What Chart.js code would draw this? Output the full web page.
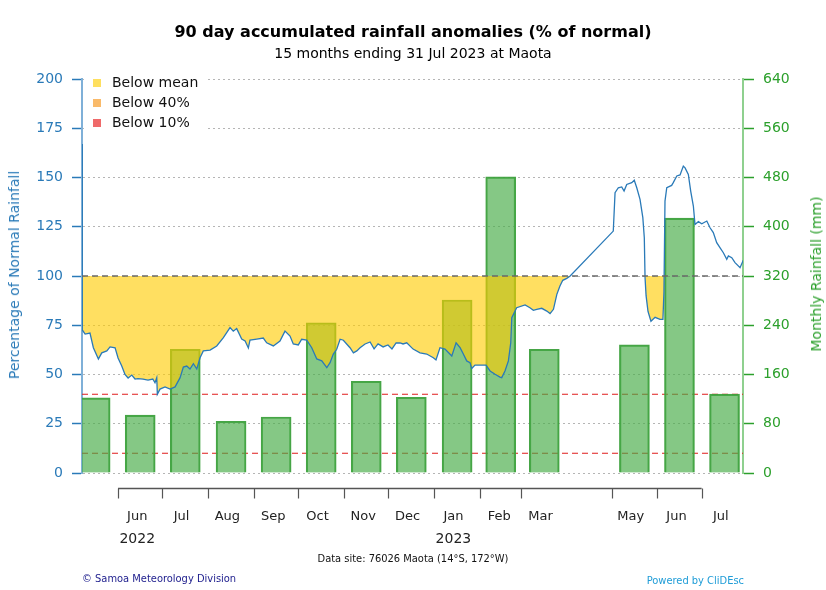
<!DOCTYPE html>
<html>
<head>
<meta charset="utf-8">
<script src="https://cdn.jsdelivr.net/npm/chart.js@4.4.1/dist/chart.umd.min.js"></script>
<style>
  html, body { margin:0; padding:0; background:#fff; }
  #wrap { position:relative; width:826px; height:590px; font-family:'DejaVu Sans', sans-serif; }
  #c { position:absolute; left:0; top:0; }
  .t { position:absolute; white-space:nowrap; }
  #title { left:0; width:826px; top:22px; text-align:center; font-weight:bold; font-size:16px; line-height:20px; color:#000; }
  #subtitle { left:0; width:826px; top:45px; text-align:center; font-size:14px; line-height:16px; color:#000; }
  .ytitle { font-size:14px; line-height:16px; transform:translate(-50%,-50%) rotate(-90deg); }
  #ylt { left:14px; top:275px; color:#2a7ab8; }
  #yrt { left:816px; top:274px; color:#2ca02c; }
  .foot { font-family:'DejaVu Sans Condensed','DejaVu Sans',sans-serif; font-stretch:condensed; font-size:11px; line-height:13px; }
  #site { left:0; width:826px; top:552px; text-align:center; color:#111; }
  #org { left:82px; top:572px; color:#1c1c8c; }
  #pow { right:82px; top:574px; color:#1e9cd7; }
</style>
</head>
<body>
<div id="wrap">
  <canvas id="c" width="826" height="590"></canvas>
  <div class="t" id="title">90 day accumulated rainfall anomalies (% of normal)</div>
  <div class="t" id="subtitle">15 months ending 31 Jul 2023 at Maota</div>
  <div class="t ytitle" id="ylt">Percentage of Normal Rainfall</div>
  <div class="t ytitle" id="yrt">Monthly Rainfall (mm)</div>
  <div class="t foot" id="site">Data site: 76026 Maota (14°S, 172°W)</div>
  <div class="t foot" id="org">© Samoa Meteorology Division</div>
  <div class="t foot" id="pow">Powered by CliDEsc</div>
</div>
<script>
// ---- DATA (days counted from 1 Jun 2022) ----
const months = ['May','Jun','Jul','Aug','Sep','Oct','Nov','Dec','Jan','Feb','Mar','Apr','May','Jun','Jul'];
const monthStartDay = [-31,0,30,61,92,122,153,183,214,245,273,304,334,365,395,426];
const monthlyRain = [122,94,201,84,91,244,149,123,281,481,201,null,208,414,128];

const axisMonths = ['Jun','Jul','Aug','Sep','Oct','Nov','Dec','Jan','Feb','Mar','May','Jun','Jul'];
const axisTickDays = [0,30,61,92,122,153,183,214,245,273,334,365,395];
const yearLabels = ['2022','2023'];
const yearLabelDays = [0,214];

const lineDays = [-24.4,-24.2,-22.3,-19,-16.7,-13.3,-11,-7.6,-5.4,-2,
0,2.5,4.7,6.8,9.3,11.5,13.5,16.9,20.3,23.5,
25,26.2,26.6,28.4,31.8,35.2,38.6,42,44.2,46.5,
48.7,51,53.3,55.5,57.7,62.3,66.8,71.3,75.8,78,
80.3,83.7,86,88.2,89.3,93.9,98.3,100.6,105.1,109.6,
113,116.4,118.6,122,124.3,127.7,131.1,134.5,137.9,141.3,
143.5,145.7,148,150.3,152.5,157,159.3,161.6,163.8,167.2,
170.6,173.3,176,179.4,182.7,185.4,188.2,190.9,192.9,195.4,
199.7,204.4,208.9,213.4,215.2,217.9,221.3,225.9,228.8,231.5,
233.7,236,238.2,239.4,241.6,246.2,249.1,251.8,255.2,258.5,
259.7,261.9,264.2,265.8,266.5,269.8,275.5,278.8,281.1,283.4,
286.8,290.2,292.4,294.7,297,299.1,301,303.7,306,335.2,
336.4,338.6,340.9,342.5,344.3,347.7,349.4,351.1,353.3,355.2,
356.2,356.7,357.4,358.7,360.7,363.5,366.8,368.8,369.5,370.2,
371.4,374.7,375.8,378.2,380.4,382.6,383.8,386,387.6,389.4,
390.5,392.8,395.1,398.5,400.7,402.9,405.2,407.4,409.7,412,
413.1,415.4,417.6,421,423.2];
const lineValues = [167,72.6,70.5,71,63.6,57.9,61,62,64,63.5,
58.4,54.3,50,48.2,49.7,47.7,47.9,47.7,47.2,47.7,
45.8,48.4,40,42.6,43.7,42.6,43.7,48.4,53.8,54.3,
52.8,55.5,52.8,58.5,62,62.4,64.5,68.7,73.8,72,
73.3,68,67,63.5,67.5,68,68.5,66.1,64.5,67,
72,69.5,65.5,65,67.9,67.5,63.6,57.9,56.9,53.5,
56,60.4,62.8,67.9,67.4,63.6,61,62,63.6,65.5,
66.5,63,65.5,64,65,63,66,66.1,65.5,66.1,
62.9,61,60.4,58.5,57.4,63.6,62.9,59.4,66.1,63.6,
60.4,56.9,56,53.1,54.8,54.8,54.8,51.8,50.1,48.7,
48.4,51.8,56.9,66.1,78.8,83.9,85.3,83.9,82.6,83.1,
83.6,82.2,80.9,83.1,90.7,94.9,97.8,98.8,100,122.8,
142.3,144.8,145.2,143.1,146.5,147.4,148.6,144.8,138.9,129.6,
119.4,99.1,90,82,77,79,78,78,92,138,
144.8,146,147.4,150.8,151.3,155.8,154.9,151.6,143.1,135.5,
126.2,127.6,126.5,127.9,124.5,122,116.9,114.4,111.8,108.5,
110.2,109.3,106.8,104.2,108];

const meanLevel = 100, pct40 = 40, pct10 = 10;
const xMin = -24.4, xMax = 423;
const legendItems = ['Below mean','Below 40%','Below 10%'];
const legendColors = ['#fedf5f','#f9ba6a','#ef6a6a'];

// ---- build ----
const barPoints = [];
monthlyRain.forEach((v, i) => {
  if (v === null) return;
  const mid = (monthStartDay[i] + monthStartDay[i+1]) / 2;
  barPoints.push({x: mid, y: v});
});
const linePoints = lineDays.map((d, i) => ({x: d, y: lineValues[i]}));
const hline = v => [{x: xMin, y: v}, {x: xMax, y: v}];

const FONT = "'DejaVu Sans', sans-serif";

const legendPlugin = {
  id: 'insideLegend',
  beforeDatasetsDraw(chart) {
    const c = chart.ctx, a = chart.chartArea;
    c.save();
    c.fillStyle = '#fff';
    c.fillRect(a.left + 2, a.top - 8, 122, 64);
    c.font = '14px ' + FONT;
    c.textBaseline = 'middle';
    c.textAlign = 'left';
    legendItems.forEach((t, i) => {
      const y = a.top + 4 + i * 20;
      c.fillStyle = legendColors[i];
      c.fillRect(a.left + 11, y - 4, 8, 8);
      c.fillStyle = '#111';
      c.fillText(t, a.left + 30, y + 0.5);
    });
    c.restore();
  }
};

const lowerAxisPlugin = {
  id: 'lowerAxis',
  afterDraw(chart) {
    const xs = chart.scales.x, c = chart.ctx;
    const y0 = chart.chartArea.bottom + 15.5;
    c.save();
    c.strokeStyle = '#555'; c.lineWidth = 1.5;
    c.beginPath();
    c.moveTo(xs.getPixelForValue(axisTickDays[0]), y0);
    c.lineTo(xs.getPixelForValue(axisTickDays[axisTickDays.length - 1]), y0);
    c.stroke();
    c.lineWidth = 1.2;
    axisTickDays.forEach(d => {
      const x = Math.round(xs.getPixelForValue(d)) + 0.5;
      c.beginPath(); c.moveTo(x, y0); c.lineTo(x, y0 + 10); c.stroke();
    });
    c.fillStyle = '#222';
    c.textAlign = 'center'; c.textBaseline = 'middle';
    c.font = '13px ' + FONT;
    axisMonths.forEach((m, i) => {
      c.fillText(m, xs.getPixelForValue(axisTickDays[i] + 13), y0 + 28);
    });
    c.font = '14px ' + FONT;
    yearLabels.forEach((yl, i) => {
      c.fillText(yl, xs.getPixelForValue(yearLabelDays[i] + 13), y0 + 51);
    });
    c.restore();
  }
};

new Chart(document.getElementById('c'), {
  type: 'bar',
  data: {
    datasets: [
      { type: 'line', data: hline(pct40), yAxisID: 'y', borderColor: '#e01c1c', borderWidth: 1.1, borderDash: [6,4], pointRadius: 0, fill: false, order: 5 },
      { type: 'line', data: hline(pct10), yAxisID: 'y', borderColor: '#e01c1c', borderWidth: 1.1, borderDash: [6,4], pointRadius: 0, fill: false, order: 5 },
      { type: 'bar', data: barPoints, yAxisID: 'y2', backgroundColor: 'rgba(70,172,70,0.66)', borderColor: 'rgba(60,160,60,0.95)', borderWidth: 1.5, barThickness: 30, clip: 0, order: 3 },
      { type: 'line', data: linePoints, yAxisID: 'y', borderColor: '#2a7ab8', borderWidth: 1.3, pointRadius: 0, tension: 0,
        fill: { target: { value: meanLevel }, above: 'rgba(0,0,0,0)', below: 'rgba(255,204,0,0.62)' }, order: 1 },
      { type: 'line', data: hline(meanLevel), yAxisID: 'y', borderColor: '#6a6a6a', borderWidth: 1.6, borderDash: [6,4], pointRadius: 0, fill: false, order: 0 }
    ]
  },
  options: {
    responsive: false,
    animation: false,
    events: [],
    layout: { padding: { top: 79, bottom: 117, left: 0, right: 0 } },
    scales: {
      x: { type: 'linear', min: xMin, max: xMax, display: false, offset: false, grid: { display: false } },
      y: {
        position: 'left', min: 0, max: 200,
        afterFit: s => { s.width = 82; },
        ticks: { stepSize: 25, color: '#2a7ab8', font: { family: FONT, size: 14 }, padding: 9 },
        grid: { color: '#b5b5b5', lineWidth: 1, tickColor: '#2a7ab8', tickLength: 10, tickWidth: 1.5 },
        border: { display: true, color: '#7fb0d8', width: 2, dash: [2,3] }
      },
      y2: {
        position: 'right', min: 0, max: 640,
        afterFit: s => { s.width = 83; },
        ticks: { stepSize: 80, color: '#2ca02c', font: { family: FONT, size: 14 }, padding: 9 },
        grid: { drawOnChartArea: false, tickColor: '#2ca02c', tickLength: 11, tickWidth: 1.5 },
        border: { display: true, color: '#8fd08f', width: 2 }
      }
    },
    plugins: { legend: { display: false }, tooltip: { enabled: false }, title: { display: false } }
  },
  plugins: [legendPlugin, lowerAxisPlugin]
});
</script>
</body>
</html>
